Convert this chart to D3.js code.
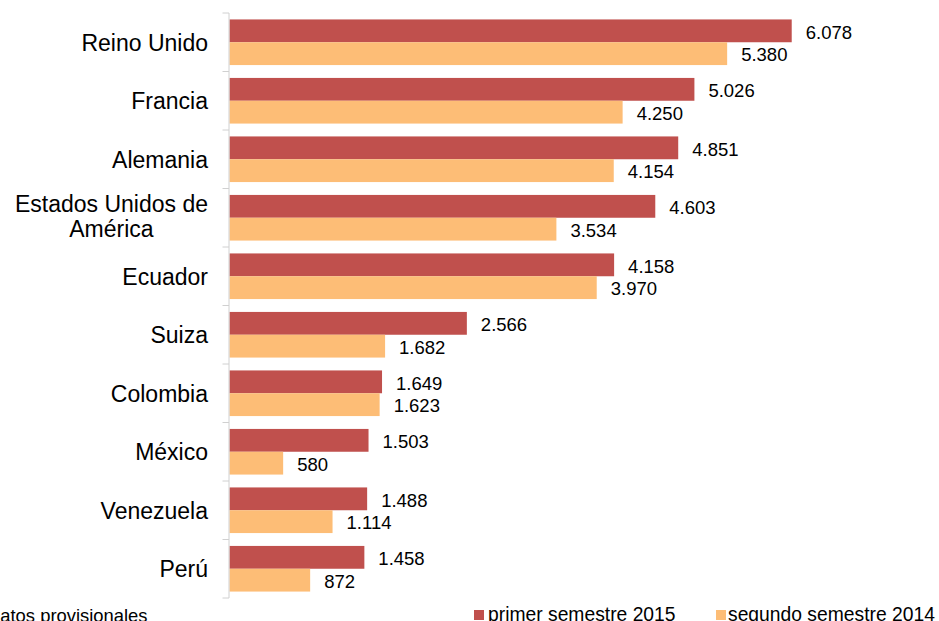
<!DOCTYPE html>
<html><head><meta charset="utf-8">
<script src="https://cdn.jsdelivr.net/npm/d3@7"></script>
<style>
html,body{margin:0;padding:0;background:#fff;overflow:hidden}
svg{display:block;font-family:"Liberation Sans",Arial,sans-serif}
</style></head>
<body>
<svg id="chart" width="939" height="621"></svg>
<script>
const categories = ["Reino Unido","Francia","Alemania","Estados Unidos de\nAmérica","Ecuador","Suiza","Colombia","México","Venezuela","Perú"];
const seriesNames = ["primer semestre 2015","segundo semestre 2014"];
const primer2015 = [6078,5026,4851,4603,4158,2566,1649,1503,1488,1458];
const segundo2014 = [5380,4250,4154,3534,3970,1682,1623,580,1114,872];
const colors = ["#C0504D","#FDBD76"];
const footnote = "Datos provisionales";

const svg = d3.select("#chart");
const axisX = 229.5;
const y = d3.scaleBand().domain(categories).range([13, 598]).paddingInner(0.22).paddingOuter(0.11);
const y1 = d3.scaleBand().domain([0,1]).range([0, y.bandwidth()]);
const x = d3.scaleLinear().domain([0, 7000]).range([axisX, 877]);
const loc = d3.formatLocale({decimal:",", thousands:".", grouping:[3], currency:["",""]});
const fmt = loc.format(",d");

const series = [primer2015, segundo2014];

// bars
series.forEach((vals, si) => {
  const g = svg.append("g");
  g.selectAll("rect").data(vals).join("rect")
    .attr("x", x(0))
    .attr("y", (d,i) => y(categories[i]) + y1(si))
    .attr("width", d => x(d) - x(0))
    .attr("height", y1.bandwidth())
    .attr("fill", colors[si]);
  g.selectAll("text").data(vals).join("text")
    .attr("x", d => x(d) + 14)
    .attr("y", (d,i) => y(categories[i]) + y1(si) + y1.bandwidth()/2)
    .attr("dy", "0.42em")
    .attr("font-size", 18.5)
    .attr("fill", "#000")
    .text(d => fmt(d));
});

// axis line and ticks at band boundaries
const step = y.step();
const r = y.range();
const bounds = d3.range(categories.length + 1).map(i => r[0] + i * step);
svg.append("line").attr("x1", axisX-0.5).attr("x2", axisX-0.5).attr("y1", r[0]).attr("y2", r[1])
  .attr("stroke", "#d0d0d0").attr("stroke-width", 1);
svg.selectAll(".tk").data(bounds).join("line").attr("class","tk")
  .attr("x1", axisX-7).attr("x2", axisX-0.5).attr("y1", d => d).attr("y2", d => d)
  .attr("stroke", "#d0d0d0").attr("stroke-width", 1);

// category labels
categories.forEach(c => {
  const lines = c.split("\n");
  const cy = y(c) + y.bandwidth()/2;
  const t = svg.append("text").attr("font-size", 23).attr("fill", "#000");
  if (lines.length === 1) {
    t.attr("x", 208).attr("y", cy).attr("dy", "0.37em").attr("text-anchor", "end").text(c);
  } else {
    const lh = 25;
    lines.forEach((l, k) => {
      t.append("tspan").attr("y", cy + (k - (lines.length-1)/2) * lh).attr("dy","0.3em").text(l);
    });
    const widths = t.selectAll("tspan").nodes().map(n => n.getComputedTextLength());
    const mw = d3.max(widths);
    t.attr("text-anchor", "middle").selectAll("tspan").attr("x", 208 - mw/2);
  }
});

// legend
const leg = [{x:474, tx:488},{x:716, tx:728}];
seriesNames.forEach((s, i) => {
  svg.append("rect").attr("x", leg[i].x).attr("y", 610).attr("width", 10).attr("height", 10).attr("fill", colors[i]);
  svg.append("text").attr("x", leg[i].tx).attr("y", 620.5).attr("font-size", 19.3).attr("fill", "#000").text(s);
});

// footnote
svg.append("text").attr("x", -13).attr("y", 622).attr("font-size", 18.4).attr("fill", "#000").text(footnote);
</script>
</body></html>
